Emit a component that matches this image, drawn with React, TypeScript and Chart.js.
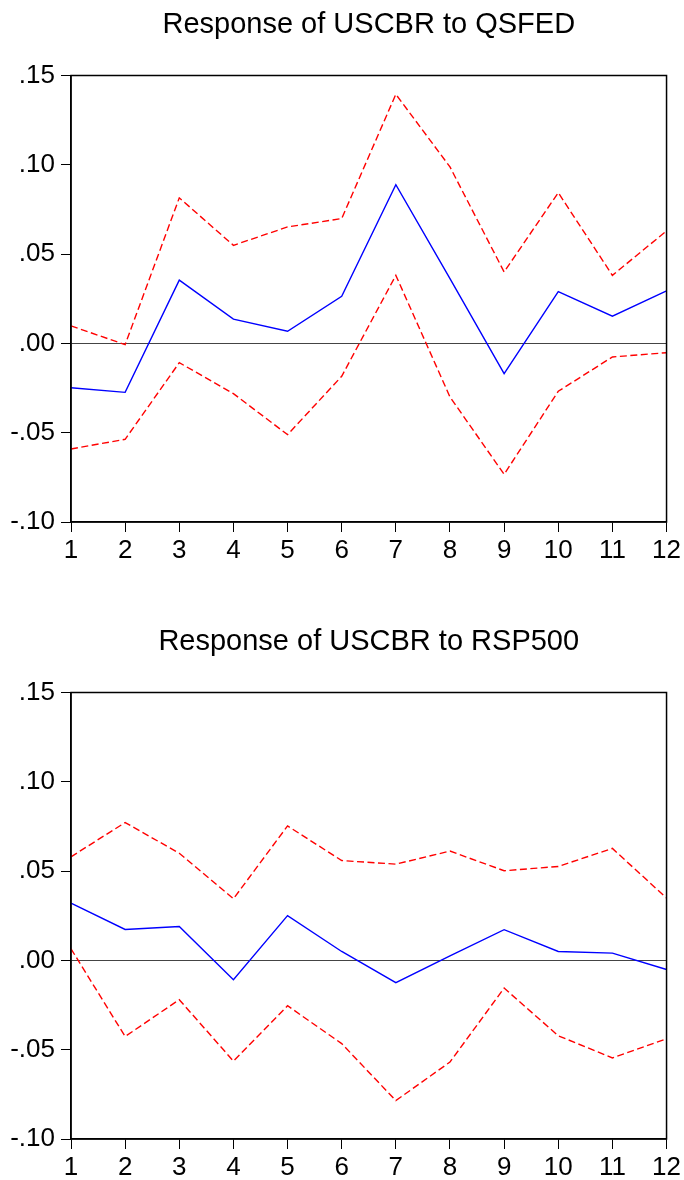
import React, { useEffect, useRef } from "react";
import { Chart, registerables } from "chart.js";

Chart.register(...registerables);

const periods = ["1", "2", "3", "4", "5", "6", "7", "8", "9", "10", "11", "12"];

const qsfedResp = [-0.0248, -0.0274, 0.0354, 0.0136, 0.0068, 0.0264, 0.0889, 0.0363, -0.0169, 0.029, 0.0152, 0.0294];
const qsfedUpper = [0.0098, -0.0007, 0.0815, 0.0549, 0.0652, 0.0699, 0.1395, 0.0988, 0.04, 0.0844, 0.0381, 0.063];
const qsfedLower = [-0.0591, -0.0537, -0.0108, -0.0281, -0.0511, -0.0184, 0.0381, -0.03, -0.0733, -0.0268, -0.0076, -0.0052];

const rspResp = [0.0321, 0.0173, 0.019, -0.0108, 0.0251, 0.005, -0.0125, 0.0026, 0.0172, 0.005, 0.0041, -0.0051];
const rspUpper = [0.058, 0.0772, 0.06, 0.0345, 0.0753, 0.0559, 0.0539, 0.0612, 0.0502, 0.0526, 0.0627, 0.0349];
const rspLower = [0.0065, -0.0426, -0.022, -0.0564, -0.0254, -0.0466, -0.0785, -0.0569, -0.0155, -0.0422, -0.0546, -0.0439];

const yTickValues = [-0.1, -0.05, 0, 0.05, 0.1, 0.15];
const yTickLabels = ["-.10", "-.05", ".00", ".05", ".10", ".15"];

const FONT = "'Liberation Sans', Arial, Helvetica, sans-serif";

type Props = {
  title: string;
  resp: number[];
  upper: number[];
  lower: number[];
  height: number;
};

const AREA_TOP = 75.5;
const AREA_BOTTOM = 522;
const AREA_LEFT = 71;
const AREA_RIGHT = 667;
const WIDTH = 684;

function IrfChart({ title, resp, upper, lower, height }: Props) {
  const ref = useRef<HTMLCanvasElement | null>(null);

  useEffect(() => {
    if (!ref.current) return;
    const framePlugin = {
      id: "frameAndTitle",
      afterDraw(chart: any) {
        const { ctx, chartArea } = chart;
        ctx.save();
        ctx.strokeStyle = "#000";
        ctx.lineWidth = 1.5;
        ctx.strokeRect(chartArea.left, chartArea.top, chartArea.right - chartArea.left, chartArea.bottom - chartArea.top);
        ctx.fillStyle = "#000";
        ctx.font = `29px ${FONT}`;
        ctx.textAlign = "center";
        ctx.textBaseline = "middle";
        ctx.fillText(title, (chartArea.left + chartArea.right) / 2, 25);
        ctx.restore();
      },
    };

    const chart = new Chart(ref.current, {
      type: "line",
      data: {
        labels: periods,
        datasets: [
          {
            label: "upper",
            data: upper,
            borderColor: "#FF0000",
            borderWidth: 1.4,
            borderDash: [7, 3.5],
            pointRadius: 0,
            fill: false,
            tension: 0,
          },
          {
            label: "lower",
            data: lower,
            borderColor: "#FF0000",
            borderWidth: 1.4,
            borderDash: [7, 3.5],
            pointRadius: 0,
            fill: false,
            tension: 0,
          },
          {
            label: "response",
            data: resp,
            borderColor: "#0000FF",
            borderWidth: 1.4,
            pointRadius: 0,
            fill: false,
            tension: 0,
          },
        ],
      },
      options: {
        animation: false,
        responsive: false,
        maintainAspectRatio: false,
        events: [],
        layout: {
          padding: { top: AREA_TOP, right: WIDTH - AREA_RIGHT, left: 0, bottom: 0 },
        },
        plugins: {
          legend: { display: false },
          title: { display: false },
          tooltip: { enabled: false },
        },
        scales: {
          x: {
            type: "category",
            offset: false,
            afterFit(scale: any) {
              scale.height = height - AREA_BOTTOM;
            },
            grid: {
              drawOnChartArea: false,
              drawTicks: true,
              tickLength: 10,
              tickColor: "#000",
              color: "#000",
            },
            border: { display: true, color: "#000", width: 1.5 },
            ticks: {
              color: "#000",
              font: { family: FONT, size: 26 },
              padding: 3,
              maxRotation: 0,
              autoSkip: false,
            },
          },
          y: {
            type: "linear",
            min: -0.1,
            max: 0.15,
            afterFit(scale: any) {
              scale.width = AREA_LEFT;
            },
            afterBuildTicks(scale: any) {
              scale.ticks = yTickValues.map((v) => ({ value: v }));
            },
            grid: {
              drawOnChartArea: true,
              drawTicks: true,
              tickLength: 10,
              tickColor: "#000",
              lineWidth: 1,
              color: (c: any) => (c.tick && Math.abs(c.tick.value) < 1e-9 ? "#444" : "rgba(0,0,0,0)"),
            },
            border: { display: true, color: "#000", width: 1.5 },
            ticks: {
              color: "#000",
              font: { family: FONT, size: 26 },
              padding: 6,
              callback: (value: any) => {
                const i = yTickValues.findIndex((v) => Math.abs(v - Number(value)) < 1e-9);
                return i >= 0 ? yTickLabels[i] : "";
              },
            },
          },
        },
      },
      plugins: [framePlugin],
    });
    return () => chart.destroy();
  }, [title, resp, upper, lower, height]);

  return (
    <div style={{ width: WIDTH, height, position: "relative" }}>
      <canvas ref={ref} width={WIDTH} height={height} style={{ display: "block", width: WIDTH, height }} />
    </div>
  );
}

export default function App() {
  useEffect(() => {
    document.body.style.margin = "0";
    document.body.style.background = "#fff";
  }, []);
  return (
    <div style={{ width: WIDTH, background: "#fff" }}>
      <IrfChart title="Response of USCBR to QSFED" resp={qsfedResp} upper={qsfedUpper} lower={qsfedLower} height={617} />
      <IrfChart title="Response of USCBR to RSP500" resp={rspResp} upper={rspUpper} lower={rspLower} height={563} />
    </div>
  );
}
